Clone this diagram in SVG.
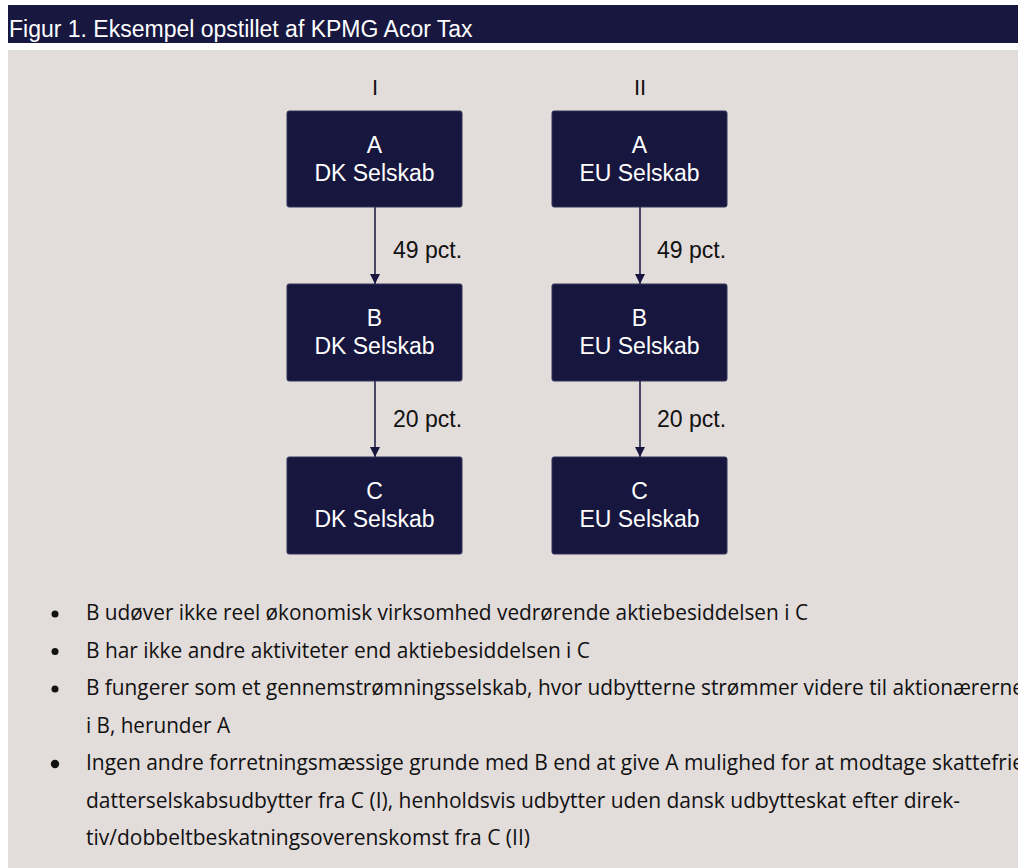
<svg xmlns="http://www.w3.org/2000/svg" width="1018" height="868" viewBox="0 0 1018 868">
<style>
.band{fill:#17173f}
.bg{fill:#e2dcdb}
.hdr{font-family:"Liberation Sans",Arial,sans-serif;font-size:23px;fill:#ffffff}
.box{fill:#16163e;stroke:#34345a;stroke-width:1}
.bt{font-family:"Liberation Sans",Arial,sans-serif;font-size:23px;fill:#ffffff;text-anchor:middle}
.lbl{font-family:"Liberation Sans",Arial,sans-serif;font-size:23px;fill:#111111}
.col{font-family:"Liberation Sans",Arial,sans-serif;font-size:22px;fill:#111111;text-anchor:middle}
.edge{stroke:#16163e;stroke-width:1.5;fill:none}
.bl{font-family:"Open Sans","Noto Sans",sans-serif;font-size:21px;fill:#111111}
.dot{fill:#111111}
</style>
<defs>
<marker id="arr" viewBox="0 0 10 10" refX="10" refY="5" markerWidth="10" markerHeight="10" markerUnits="userSpaceOnUse" orient="auto">
<path d="M0,0 L10,5 L0,10 Z" fill="#16163e"/>
</marker>
</defs>
<rect class="band" x="8" y="5" width="1010" height="38"/>
<text class="hdr" x="9" y="37">Figur 1. Eksempel opstillet af KPMG Acor Tax</text>
<rect class="bg" x="8" y="50" width="1010" height="818"/>

<text class="col" x="375" y="95">I</text>
<text class="col" x="640" y="95">II</text>

<g id="connectors">
<line class="edge" x1="375" y1="207" x2="375" y2="284" marker-end="url(#arr)"/>
<line class="edge" x1="375" y1="381" x2="375" y2="457" marker-end="url(#arr)"/>
<line class="edge" x1="640" y1="207" x2="640" y2="284" marker-end="url(#arr)"/>
<line class="edge" x1="640" y1="381" x2="640" y2="457" marker-end="url(#arr)"/>
<text class="lbl" x="393" y="258">49 pct.</text>
<text class="lbl" x="393" y="427">20 pct.</text>
<text class="lbl" x="657" y="258">49 pct.</text>
<text class="lbl" x="657" y="427">20 pct.</text>
</g>

<g id="node-IA"><rect class="box" x="287" y="111" width="175" height="96" rx="2"/><text class="bt" x="374.5" y="153">A</text><text class="bt" x="374.5" y="181">DK Selskab</text></g>
<g id="node-IB"><rect class="box" x="287" y="284" width="175" height="97" rx="2"/><text class="bt" x="374.5" y="326">B</text><text class="bt" x="374.5" y="354">DK Selskab</text></g>
<g id="node-IC"><rect class="box" x="287" y="457" width="175" height="97" rx="2"/><text class="bt" x="374.5" y="499">C</text><text class="bt" x="374.5" y="527">DK Selskab</text></g>
<g id="node-IIA"><rect class="box" x="552" y="111" width="175" height="96" rx="2"/><text class="bt" x="639.5" y="153">A</text><text class="bt" x="639.5" y="181">EU Selskab</text></g>
<g id="node-IIB"><rect class="box" x="552" y="284" width="175" height="97" rx="2"/><text class="bt" x="639.5" y="326">B</text><text class="bt" x="639.5" y="354">EU Selskab</text></g>
<g id="node-IIC"><rect class="box" x="552" y="457" width="175" height="97" rx="2"/><text class="bt" x="639.5" y="499">C</text><text class="bt" x="639.5" y="527">EU Selskab</text></g>

<g id="bullets">
<circle class="dot" cx="55" cy="614" r="3.5"/>
<circle class="dot" cx="55" cy="651.5" r="3.5"/>
<circle class="dot" cx="55" cy="689" r="3.5"/>
<circle class="dot" cx="55" cy="764" r="4.2"/>
<text class="bl" x="86" y="620" textLength="722" lengthAdjust="spacingAndGlyphs">B udøver ikke reel økonomisk virksomhed vedrørende aktiebesiddelsen i C</text>
<text class="bl" x="86" y="657.5" textLength="504" lengthAdjust="spacingAndGlyphs">B har ikke andre aktiviteter end aktiebesiddelsen i C</text>
<text class="bl" x="86" y="695" textLength="938" lengthAdjust="spacingAndGlyphs">B fungerer som et gennemstrømningsselskab, hvor udbytterne strømmer videre til aktionærerne</text>
<text class="bl" x="86" y="732.5" textLength="144" lengthAdjust="spacingAndGlyphs">i B, herunder A</text>
<text class="bl" x="86" y="770" textLength="938" lengthAdjust="spacingAndGlyphs">Ingen andre forretningsmæssige grunde med B end at give A mulighed for at modtage skattefrie</text>
<text class="bl" x="86" y="807.5" textLength="874" lengthAdjust="spacingAndGlyphs">datterselskabsudbytter fra C (I), henholdsvis udbytter uden dansk udbytteskat efter direk-</text>
<text class="bl" x="86" y="845" textLength="444" lengthAdjust="spacingAndGlyphs">tiv/dobbeltbeskatningsoverenskomst fra C (II)</text>
</g>
</svg>
